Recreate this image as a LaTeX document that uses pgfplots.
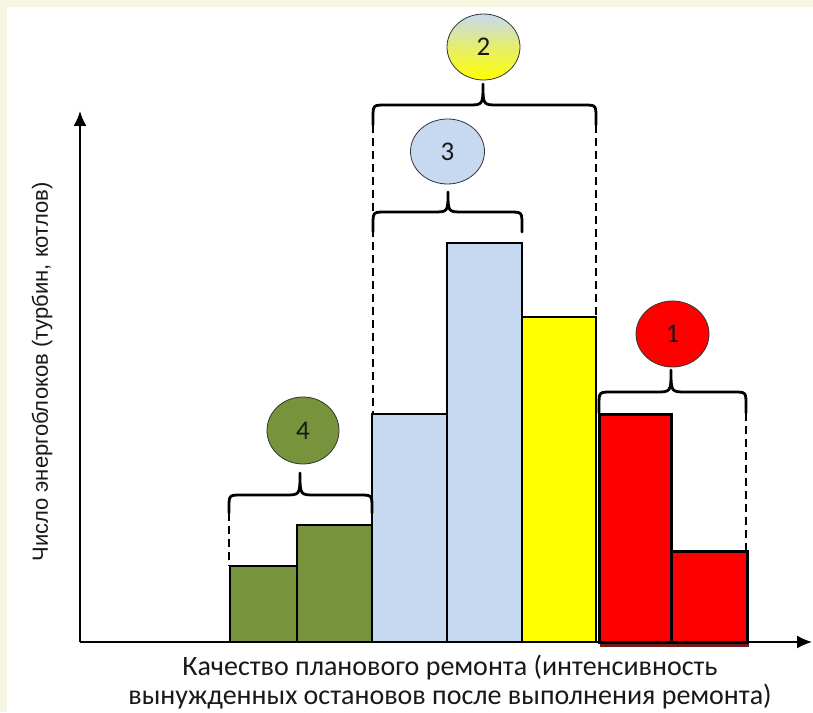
\documentclass[border=0pt]{standalone}
\usepackage{pgfplots}
\pgfplotsset{compat=1.18}
\usepackage{fontspec}
\setmainfont{Carlito}
\newfontfamily\arialfont{Liberation Sans}
\usetikzlibrary{arrows.meta}
\definecolor{bgc}{RGB}{247,246,225}
\definecolor{greenC}{RGB}{119,147,60}
\definecolor{blueC}{RGB}{198,217,241}
\definecolor{yellowC}{RGB}{255,255,0}
\definecolor{redC}{RGB}{255,0,0}
\definecolor{shadowC}{RGB}{110,30,30}
\definecolor{txt}{RGB}{25,25,25}
\newcommand{\hbrace}[6]{%
\draw[line width=2.8pt, line cap=round, line join=round]
 (axis cs:#1,#5) -- (axis cs:#1,#4-13) .. controls (axis cs:#1,#4) .. (axis cs:#1+13,#4)
 -- (axis cs:#3-15,#4) .. controls (axis cs:#3,#4) .. (axis cs:#3,#6)
 .. controls (axis cs:#3,#4) .. (axis cs:#3+15,#4)
 -- (axis cs:#2-13,#4) .. controls (axis cs:#2,#4) .. (axis cs:#2,#4-13) -- (axis cs:#2,#5);}
\begin{document}
\begin{tikzpicture}
\useasboundingbox (0,0) rectangle (813pt,712pt);
\fill[bgc] (0,0) rectangle (813pt,712pt);
\fill[white] (7pt,0) rectangle (813pt,705pt);
\begin{axis}[at={(80pt,70pt)}, anchor=south west, x=1pt, y=1pt,
  xmin=0, xmax=732, ymin=0, ymax=531,
  axis x line=bottom, axis y line=left,
  axis line style={line width=1.8pt, -{Latex[length=15pt,width=13pt]}},
  xtick=\empty, ytick=\empty, clip=false,
  xlabel={Качество планового ремонта (интенсивность\\вынужденных остановов после выполнения ремонта)},
  xlabel style={at={(axis cs:370,-40)}, anchor=center, align=center, text=txt, font=\fontsize{28}{29.5}\selectfont},
  ylabel={Число энергоблоков (турбин, котлов)},
  ylabel style={at={(axis cs:-38,270)}, anchor=center, text=txt, font=\arialfont\fontsize{22}{24}\selectfont},
]
\fill[shadowC] (axis cs:520,-5) rectangle (axis cs:669,0);
\addplot[ybar interval, fill=greenC, draw=black, line width=1.3pt] coordinates {(150,76) (217,117) (292,117)};
\addplot[ybar interval, fill=blueC, draw=black, line width=1.3pt] coordinates {(292,228) (367,399) (442,399)};
\addplot[ybar interval, fill=yellowC, draw=black, line width=1.3pt] coordinates {(442,325) (516,325)};
\addplot[ybar interval, fill=redC, draw=black, line width=3pt] coordinates {(519,227) (591,91) (667,91)};
% dashed guides
\draw[line width=2pt, dash pattern=on 8pt off 5pt] (axis cs:149,129) -- (axis cs:149,76);
\draw[line width=2pt, dash pattern=on 8pt off 5pt] (axis cs:293,517) -- (axis cs:293,228);
\draw[line width=2pt, dash pattern=on 8pt off 5pt] (axis cs:516,517) -- (axis cs:516,325);
\draw[line width=2pt, dash pattern=on 8pt off 5pt] (axis cs:666,229) -- (axis cs:666,91);
% braces
\hbrace{149}{292}{220}{147}{129}{169}
\hbrace{293}{442}{368}{430}{410}{450}
\hbrace{293}{516}{403}{537}{517}{558}
\hbrace{519}{666}{591}{250}{229}{272}
% ellipses
\shade[top color=blueC, bottom color=yellowC, middle color=yellowC!55!blueC, draw=black!80, line width=0.8pt] (axis cs:403.5,595) ellipse [x radius=36.5pt, y radius=33pt];
\node[text=txt, font=\fontsize{27}{28}\selectfont] at (axis cs:403.5,595) {2};
\draw[fill=blueC, draw=black!80, line width=0.8pt] (axis cs:367.5,490.5) ellipse [x radius=37pt, y radius=32.5pt];
\node[text=txt, font=\fontsize{27}{28}\selectfont] at (axis cs:367.5,490.5) {3};
\draw[fill=greenC, draw=black!80, line width=0.8pt] (axis cs:223,211.5) ellipse [x radius=36pt, y radius=33.5pt];
\node[text=txt, font=\fontsize{27}{28}\selectfont] at (axis cs:223,211.5) {4};
\draw[fill=redC, draw=black!80, line width=0.8pt] (axis cs:592.5,308) ellipse [x radius=36.5pt, y radius=33pt];
\node[text=txt, font=\fontsize{27}{28}\selectfont] at (axis cs:592.5,308) {1};
\end{axis}
\end{tikzpicture}
\end{document}
